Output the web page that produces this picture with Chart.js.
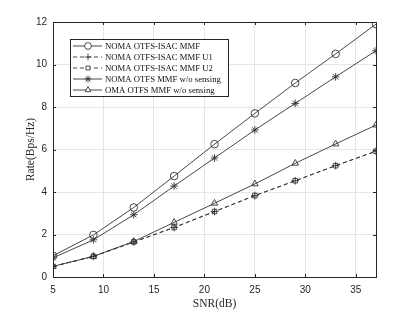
<!DOCTYPE html>
<html>
<head>
<meta charset="utf-8">
<script src="https://cdn.jsdelivr.net/npm/chart.js@4.4.0/dist/chart.umd.min.js"></script>
<style>
  html, body { margin: 0; padding: 0; background: #fff; }
  #wrap { width: 415px; height: 312px; }
</style>
</head>
<body>
<div id="wrap"><canvas id="c" width="415" height="312"></canvas></div>
<script>
// --- data ---
const snr = [5, 9, 13, 17, 21, 25, 29, 33, 37];
const isacMmf = [1.0, 1.98, 3.27, 4.75, 6.25, 7.7, 9.13, 10.5, 11.9];
const isacU1 = [0.5, 0.97, 1.65, 2.33, 3.08, 3.83, 4.53, 5.24, 5.92];
const isacU2 = [0.5, 0.97, 1.65, 2.33, 3.08, 3.83, 4.53, 5.24, 5.92];
const noSensing = [0.9, 1.75, 2.93, 4.28, 5.6, 6.92, 8.17, 9.42, 10.65];
const omaNoSensing = [0.5, 0.97, 1.67, 2.57, 3.47, 4.38, 5.35, 6.26, 7.15];
const xTicks = [5, 10, 15, 20, 25, 30, 35];
const yTicks = [0, 2, 4, 6, 8, 10, 12];

const LINE = '#333';
const series = [
  { label: 'NOMA OTFS-ISAC MMF', data: isacMmf, marker: 'circle', dash: [] },
  { label: 'NOMA OTFS-ISAC MMF U1', data: isacU1, marker: 'cross', dash: [4, 3] },
  { label: 'NOMA OTFS-ISAC MMF U2', data: isacU2, marker: 'rect', dash: [4, 3] },
  { label: 'NOMA OTFS MMF w/o sensing', data: noSensing, marker: 'star', dash: [] },
  { label: 'OMA OTFS MMF w/o sensing', data: omaNoSensing, marker: 'triangle', dash: [] }
];

const datasets = series.map(s => ({
  label: s.label,
  data: s.data.map((v, i) => ({ x: snr[i], y: v })),
  borderColor: LINE,
  borderWidth: 0.9,
  borderDash: s.dash,
  pointStyle: s.marker,
  pointRadius: s.marker === 'rect' ? 3.2 : 3.8,
  pointBorderColor: LINE,
  pointBackgroundColor: 'rgba(0,0,0,0)',
  pointBorderWidth: 0.9,
  tension: 0,
  fill: false
}));

// box, inward ticks, legend and axis titles
const matlabAxes = {
  id: 'matlabAxes',
  afterDraw(chart) {
    const ctx = chart.ctx;
    const a = chart.chartArea;
    const xs = chart.scales.x, ys = chart.scales.y;
    ctx.save();
    ctx.strokeStyle = '#262626';
    ctx.lineWidth = 1;
    ctx.strokeRect(Math.round(a.left) + 0.5, Math.round(a.top) + 0.5,
      Math.round(a.right - a.left), Math.round(a.bottom - a.top));
    ctx.beginPath();
    xTicks.forEach(t => {
      const px = Math.round(xs.getPixelForValue(t)) + 0.5;
      ctx.moveTo(px, a.bottom); ctx.lineTo(px, a.bottom - 3);
      ctx.moveTo(px, a.top); ctx.lineTo(px, a.top + 3);
    });
    yTicks.forEach(t => {
      const py = Math.round(ys.getPixelForValue(t)) + 0.5;
      ctx.moveTo(a.left, py); ctx.lineTo(a.left + 3, py);
      ctx.moveTo(a.right, py); ctx.lineTo(a.right - 3, py);
    });
    ctx.stroke();

    // axis titles
    ctx.fillStyle = '#262626';
    ctx.font = '11.5px "Liberation Serif", serif';
    ctx.textAlign = 'center';
    ctx.textBaseline = 'middle';
    ctx.fillText('SNR(dB)', (a.left + a.right) / 2, 304);
    ctx.save();
    ctx.translate(31, (a.top + a.bottom) / 2);
    ctx.rotate(-Math.PI / 2);
    ctx.fillText('Rate(Bps/Hz)', 0, 0);
    ctx.restore();

    // legend
    const bx = 70, by = 39, bw = 158, bh = 57;
    ctx.fillStyle = '#fff';
    ctx.fillRect(bx, by, bw, bh);
    ctx.strokeStyle = '#262626';
    ctx.lineWidth = 1;
    ctx.strokeRect(bx + 0.5, by + 0.5, bw, bh);
    ctx.font = '8.7px "Liberation Serif", serif';
    ctx.textAlign = 'left';
    chart.data.datasets.forEach((ds, i) => {
      const y = by + 7 + i * 11;
      ctx.strokeStyle = LINE;
      ctx.lineWidth = 0.9;
      ctx.setLineDash(ds.borderDash);
      ctx.beginPath();
      ctx.moveTo(bx + 3, y); ctx.lineTo(bx + 32, y);
      ctx.stroke();
      ctx.setLineDash([]);
      ctx.fillStyle = '#fff';
      ctx.strokeStyle = LINE;
      Chart.helpers.drawPoint(ctx, {
        pointStyle: ds.pointStyle, radius: ds.pointRadius - 0.4, borderWidth: 0.9, rotation: 0
      }, bx + 18, y);
      ctx.fillStyle = '#111';
      ctx.fillText(ds.label, bx + 35, y + 0.5);
    });
    ctx.restore();
  }
};

new Chart(document.getElementById('c'), {
  type: 'line',
  data: { datasets },
  options: {
    responsive: false,
    animation: false,
    layout: { padding: { top: 22, right: 39, left: 0, bottom: 0 } },
    plugins: { legend: { display: false }, tooltip: { enabled: false } },
    scales: {
      x: {
        type: 'linear', min: 5, max: 37,
        afterFit(s) { s.height = 35; },
        afterBuildTicks(s) { s.ticks = xTicks.map(v => ({ value: v })); },
        grid: { color: '#e6e6e6', lineWidth: 1, drawTicks: false },
        border: { display: false },
        ticks: { padding: 7, color: '#262626', font: { family: '"Liberation Sans", Arial', size: 10 } }
      },
      y: {
        type: 'linear', min: 0, max: 12,
        afterFit(s) { s.width = 53; },
        afterBuildTicks(s) { s.ticks = yTicks.map(v => ({ value: v })); },
        grid: { color: '#e6e6e6', lineWidth: 1, drawTicks: false },
        border: { display: false },
        ticks: { padding: 6, color: '#262626', font: { family: '"Liberation Sans", Arial', size: 10 } }
      }
    }
  },
  plugins: [matlabAxes]
});
</script>
</body>
</html>
